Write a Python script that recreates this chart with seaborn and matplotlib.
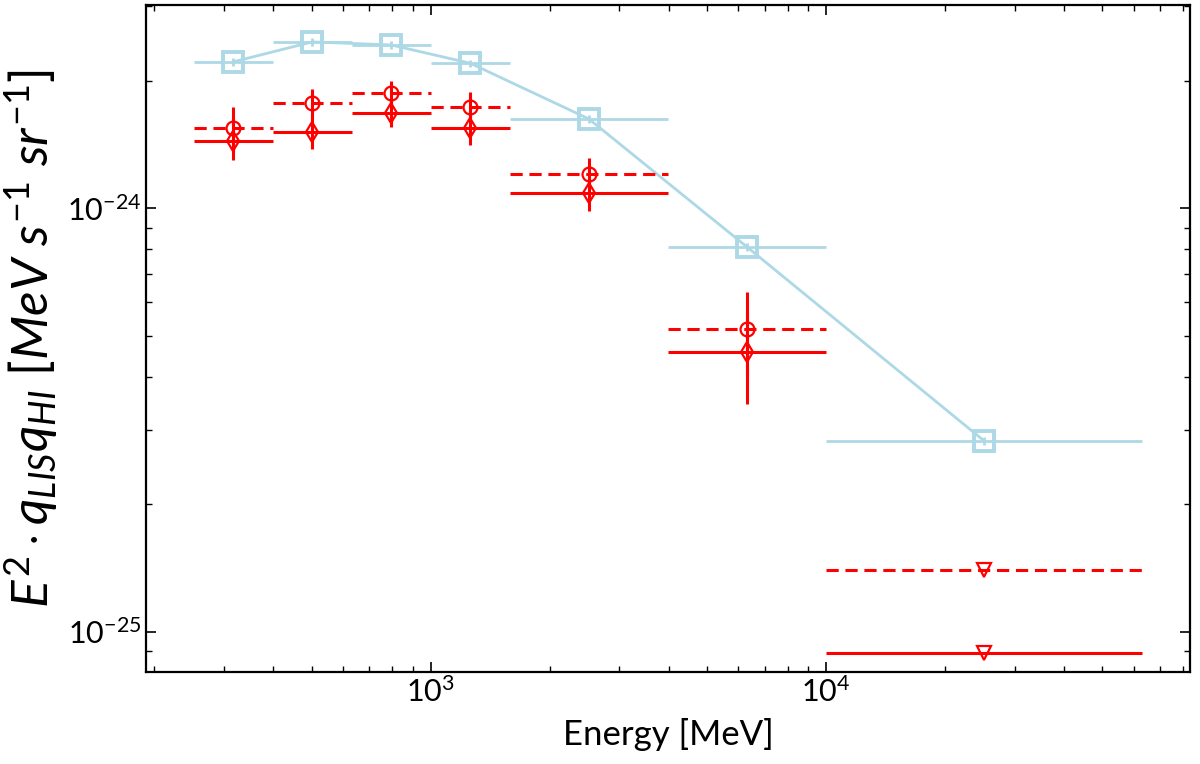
import numpy as np
import matplotlib
matplotlib.use('Agg')
import matplotlib.pyplot as plt
import matplotlib.ticker as mticker
import seaborn as sns

# energy bins (MeV), log10 edges
bin_lo = [10**2.4, 10**2.6, 10**2.8, 10**3.0, 10**3.2, 10**3.6, 10**4.0]
bin_hi = [10**2.6, 10**2.8, 10**3.0, 10**3.2, 10**3.6, 10**4.0, 10**4.8]
bin_ctr = [10**2.5, 10**2.7, 10**2.9, 10**3.1, 10**3.4, 10**3.8, 10**4.4]

# light blue reference spectrum
ref_vals = [2.216e-24, 2.47e-24, 2.43e-24, 2.20e-24, 1.625e-24, 8.10e-25, 2.82e-25]

# dashed series (circles), last bin is an upper limit
dash_vals = [1.55e-24, 1.77e-24, 1.875e-24, 1.738e-24, 1.205e-24, 5.18e-25]
dash_err = [0.184e-24, 0.143e-24, 0.124e-24, 0.148e-24, 0.107e-24, 1.17e-25]
dash_ul = 1.398e-25

# solid series (diamonds), last bin is an upper limit
solid_vals = [1.444e-24, 1.512e-24, 1.682e-24, 1.545e-24, 1.085e-24, 4.57e-25]
solid_err = [0.144e-24, 0.134e-24, 0.128e-24, 0.134e-24, 0.098e-24, 1.115e-25]
solid_ul = 8.89e-26

x_major = [1e3, 1e4]
y_major = [1e-25, 1e-24]

sns.set_theme(style='ticks')
plt.rcParams['font.family'] = ['Lato', 'DejaVu Sans']
plt.rcParams['mathtext.fontset'] = 'custom'
plt.rcParams['mathtext.rm'] = 'Lato'
plt.rcParams['mathtext.it'] = 'Lato:italic'
plt.rcParams['mathtext.bf'] = 'Lato:bold'

fig = plt.figure(figsize=(12, 7.64), dpi=100)
ax = fig.add_axes([0.1217, 0.1208, 0.87, 0.8727])

ctr = np.array(bin_ctr)
xerr = [ctr - np.array(bin_lo), np.array(bin_hi) - ctr]

blue = '#add8e6'
red = 'red'
dash_style = (0, (4, 2.2))

# light blue connecting line via seaborn
sns.lineplot(x=bin_ctr, y=ref_vals, ax=ax, color=blue, lw=2, zorder=2)
ax.errorbar(bin_ctr, ref_vals, xerr=xerr, yerr=np.array(ref_vals) * 0.02,
            fmt='s', ms=14, mfc='none', mec=blue, mew=2.8, ecolor=blue,
            elinewidth=2, capsize=0, zorder=3)

n = len(dash_vals)
xe6 = [xerr[0][:n], xerr[1][:n]]

# dashed circles
eb = ax.errorbar(bin_ctr[:n], dash_vals, xerr=xe6, yerr=dash_err,
                 fmt='o', ms=10, mfc='none', mec=red, mew=1.6, ecolor=red,
                 elinewidth=2.2, capsize=0, zorder=4)
eb[2][0].set_linestyle(dash_style)

# solid diamonds
ax.errorbar(bin_ctr[:n], solid_vals, xerr=xe6, yerr=solid_err,
            fmt='d', ms=10, mfc='none', mec=red, mew=1.6, ecolor=red,
            elinewidth=2.2, capsize=0, zorder=4)

# upper limits in last bin
ul_xerr = [[xerr[0][-1]], [xerr[1][-1]]]
eb2 = ax.errorbar([bin_ctr[-1]], [dash_ul], xerr=ul_xerr, fmt='v', ms=10,
                  mfc='none', mec=red, mew=1.6, ecolor=red, elinewidth=2.2,
                  capsize=0, zorder=4)
eb2[2][0].set_linestyle(dash_style)
ax.errorbar([bin_ctr[-1]], [solid_ul], xerr=ul_xerr, fmt='v', ms=10,
            mfc='none', mec=red, mew=1.6, ecolor=red, elinewidth=2.2,
            capsize=0, zorder=4)

ax.set_xscale('log')
ax.set_yscale('log')
ax.set_xticks(x_major)
ax.set_yticks(y_major)
ax.set_xlim(190.5, 83300)
ax.set_ylim(8.04e-26, 3.02e-24)

ax.yaxis.set_minor_formatter(mticker.NullFormatter())
ax.xaxis.set_minor_formatter(mticker.NullFormatter())
ax.tick_params(which='both', direction='in', top=True, right=True,
               color='black', labelcolor='black')
ax.tick_params(which='major', length=7, width=1.2, labelsize=22)
ax.tick_params(which='minor', length=4, width=1.0)
for sp in ax.spines.values():
    sp.set_color('black')
    sp.set_linewidth(1.6)

ax.set_xlabel('Energy [MeV]', fontsize=25, color='black', labelpad=8)
ax.set_ylabel(r'$E^2 \cdot q_{LIS}q_{HI}\ [MeV\ s^{-1}\ sr^{-1}]$', fontsize=37,
              color='black', labelpad=4)
ax.grid(False)

fig.savefig('out.png', dpi=100)
